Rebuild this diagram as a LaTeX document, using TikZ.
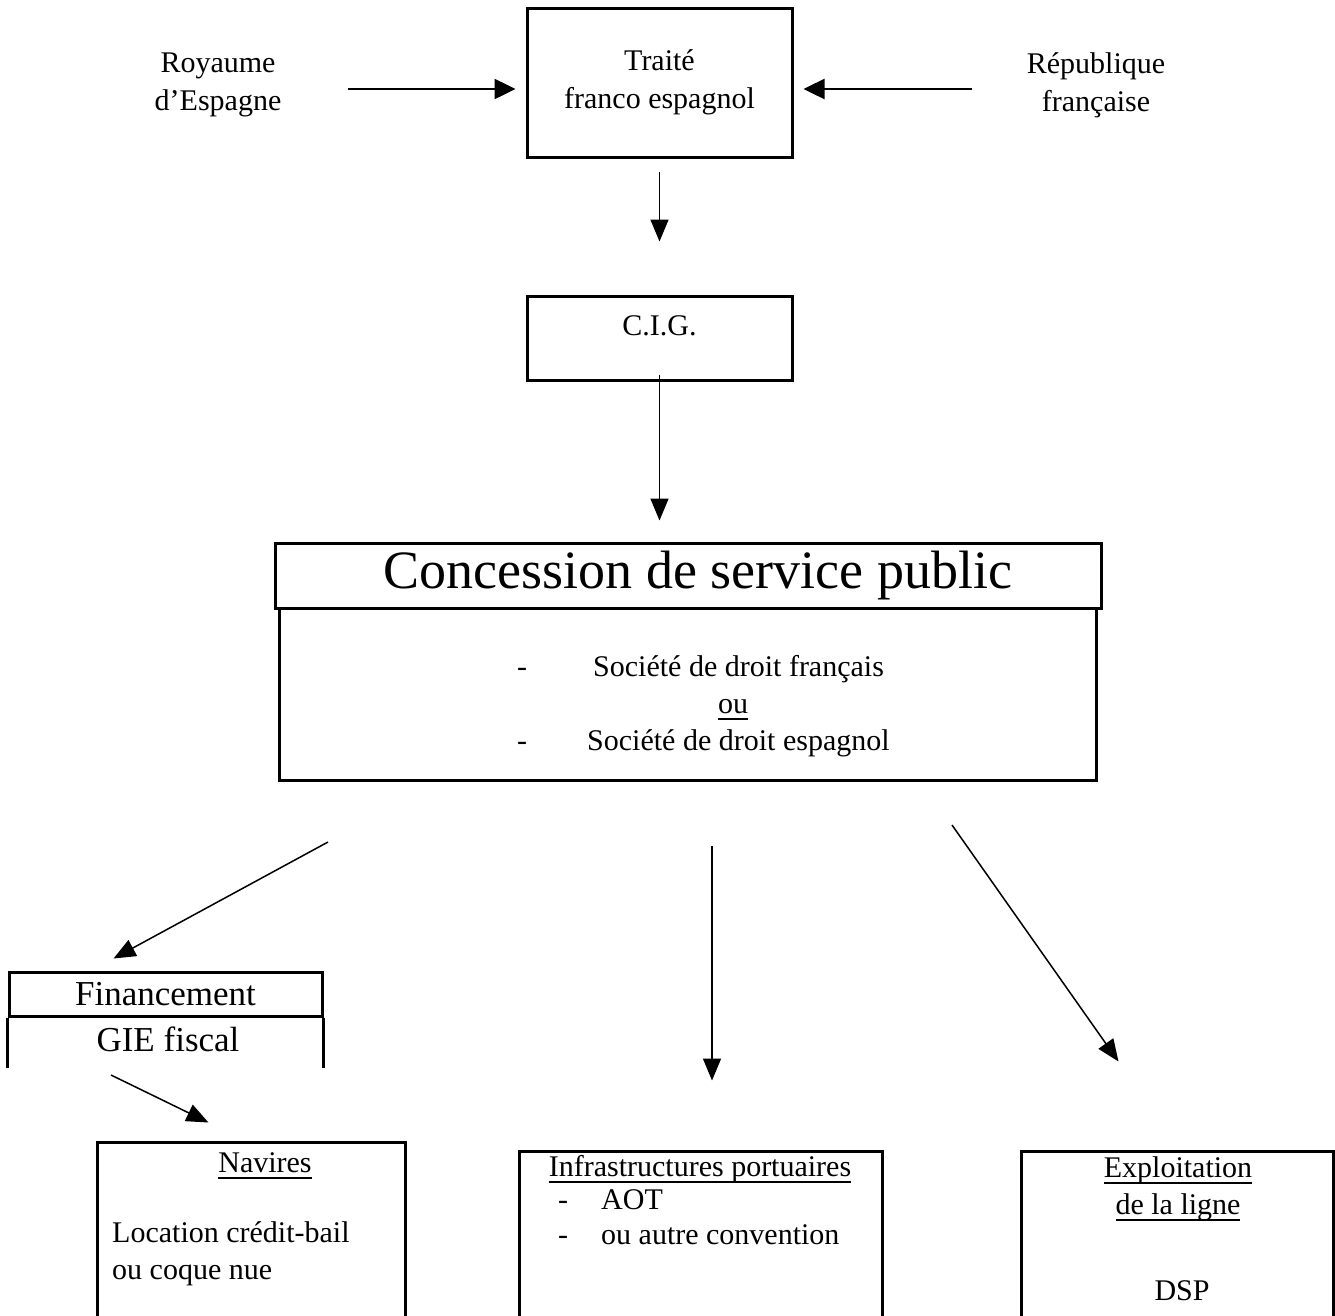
\documentclass[tikz,border=0pt]{standalone}
\usepackage{fontspec}
\setmainfont{Liberation Serif}
\usepackage{tikz}
\usetikzlibrary{arrows.meta,positioning}
\newsavebox{\soulbox}
\newcommand{\souligne}[1]{\sbox\soulbox{#1}\rlap{\rule[-7pt]{\wd\soulbox}{2.5pt}}\usebox\soulbox}

\begin{document}
\begin{tikzpicture}[x=1pt,y=-1pt,
    boite/.style={draw,line width=3pt,inner sep=0pt},
    txt/.style={font=\fontsize{30}{38}\selectfont,inner sep=0pt,align=center},
    fleche/.style={-{Triangle[length=22pt,width=18pt]},line width=1.5pt},
    grossefleche/.style={-{Triangle[length=21pt,width=20pt]},line width=2.5pt}]
      \useasboundingbox (0,0) rectangle (1335,1315);
      \clip (0,0) rectangle (1335,1315);

      % haut : traite et les deux Etats
      \node[boite,txt,minimum width=265pt,minimum height=149pt]
        (traite) at (659.5,82.5) {Trait\'e\\franco espagnol};
      \node[txt] (royaume) at (218,85) {Royaume\\d'Espagne};
      \node[txt] (republique) at (1096,85) {R\'epublique\\fran\c{c}aise};

      \coordinate (depEsp) at (348,89);
      \coordinate (depFr) at (972,89);
      \draw[grossefleche,shorten >=10pt] (depEsp) -- (depEsp -| traite.west);
      \draw[grossefleche,shorten >=10pt] (depFr) -- (depFr -| traite.east);

      \node[boite,minimum width=265pt,minimum height=84pt] (cig) at (659.5,338) {};
      \node[txt,anchor=base] (cigtxt) at (659.5,335) {C.I.G.};
      \draw[fleche,shorten <=13pt,shorten >=53pt] (traite.south) -- (cig.north);

      % concession
      \node[boite,minimum width=817pt,minimum height=172pt] (corps) at (687.5,694) {};
      \node[boite,minimum width=826pt,minimum height=65pt] (concession) at (688,575.5) {};
      \node[inner sep=0pt,anchor=base,font=\fontsize{54}{60}\selectfont]
        (concessiontxt) at (698,588) {Concession de service public};
      \draw[fleche,shorten <=-7pt,shorten >=21pt] (cig.south) -- (cig.south |- concession.north);

      \node[txt,anchor=base] (tiret1) at (522,676) {-};
      \node[txt,anchor=base west] (soc1) at (593,676) {Soci\'et\'e de droit fran\c{c}ais};
      \node[txt,anchor=base] (ou) at (733,713) {\souligne{ou}};
      \node[txt,anchor=base] (tiret2) at (522,750) {-};
      \node[txt,anchor=base west] (soc2) at (587,750) {Soci\'et\'e de droit espagnol};

      % financement
      \node[boite,minimum width=313pt,minimum height=44pt,
            font=\fontsize{35}{44}\selectfont]
        (fin) at (165.5,994) {Financement};
      \draw[line width=3pt] (fin.south west) -- ++(0,50);
      \draw[line width=3pt] (fin.south east) -- ++(0,50);
      \node[inner sep=0pt,anchor=base,font=\fontsize{35}{44}\selectfont]
        (gie) at (168,1051) {GIE fiscal};

      % les trois volets
      \node[boite,minimum width=308pt,minimum height=188pt] (nav) at (251,1236) {};
      \node[boite,minimum width=363pt,minimum height=179pt] (infra) at (700.5,1240.5) {};
      \node[boite,minimum width=312pt,minimum height=179pt] (expl) at (1177,1240.5) {};

      \node[txt,anchor=base] (navtitre) at (265,1172) {\souligne{Navires}};
      \node[txt,anchor=base west] (loc1) at (112,1242) {Location cr\'edit-bail};
      \node[txt,anchor=base west] (loc2) at (112,1279) {ou coque nue};

      \node[txt,anchor=base] (infratitre) at (700,1176) {\souligne{Infrastructures portuaires}};
      \node[txt,anchor=base] (tiret3) at (563,1209) {-};
      \node[txt,anchor=base west] (aot) at (601,1209) {AOT};
      \node[txt,anchor=base] (tiret4) at (563,1244) {-};
      \node[txt,anchor=base west] (autre) at (601,1244) {ou autre convention};

      \node[txt,anchor=base] (expl1) at (1178,1177) {\souligne{Exploitation}};
      \node[txt,anchor=base] (expl2) at (1178,1214) {\souligne{de la ligne}};
      \node[txt,anchor=base] (dsp) at (1182,1300) {DSP};

      \coordinate (depFin) at (328,842);
      \coordinate (depNav) at (111,1075);
      \coordinate (depInfra) at (712,846);
      \coordinate (depExpl) at (952,825);
      \draw[fleche] (depFin) -- ([shift={(106,-12)}]fin.north west);
      \draw[fleche] (depNav) -- ([shift={(113,-18)}]nav.north west);
      \draw[fleche,shorten >=69pt] (depInfra) -- (depInfra |- infra.north);
      \draw[fleche] (depExpl) -- ([shift={(99,-88)}]expl.north west);
\end{tikzpicture}
\end{document}
